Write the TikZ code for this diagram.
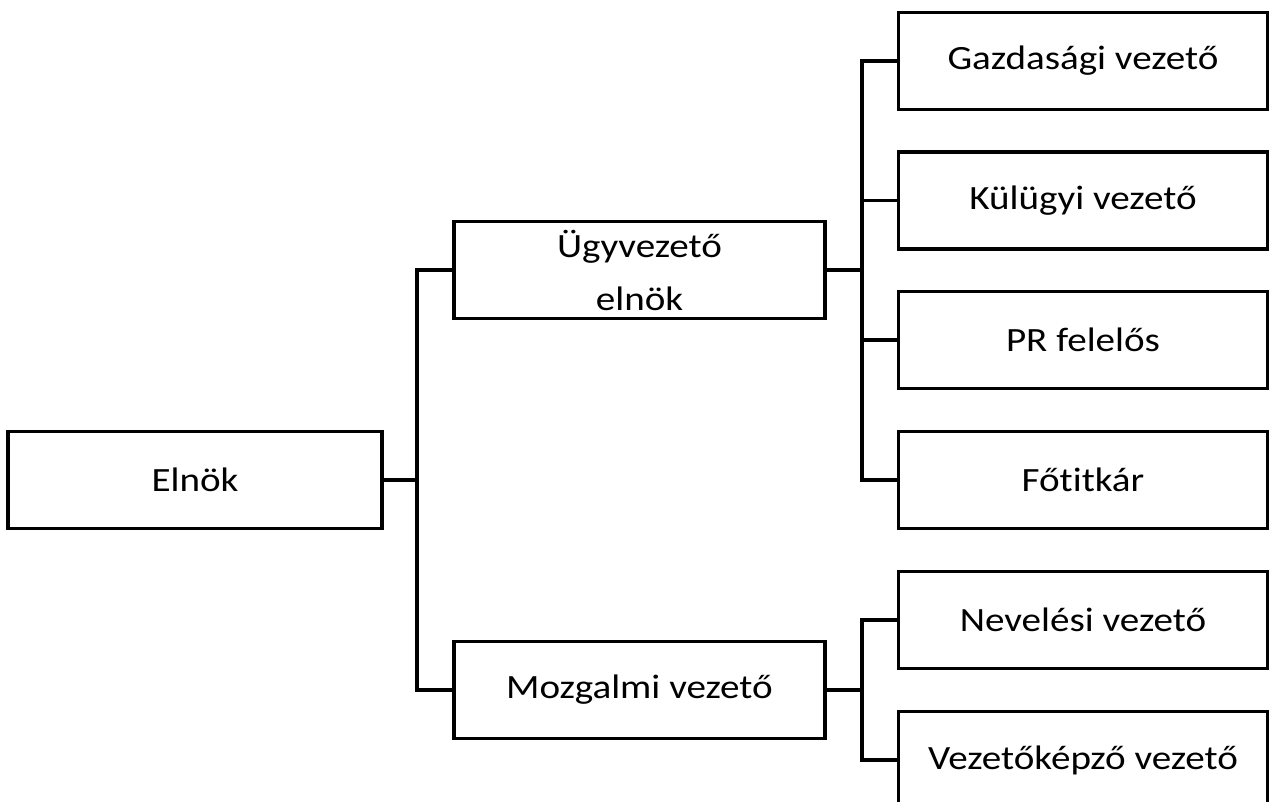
\documentclass[tikz,border=0pt]{standalone}
\usepackage{fontspec}
\setmainfont{Carlito}[FakeStretch=1.15, Ligatures=NoCommon]
\tikzset{
  orgbox/.style={draw=black, line width=3.5pt, fill=white, rectangle, inner sep=0pt,
    minimum height=97pt, align=center, font=\fontsize{34}{53}\selectfont},
  leftbox/.style={orgbox, minimum width=374pt},
  midbox/.style={orgbox, minimum width=371pt},
  rightbox/.style={orgbox, minimum width=369pt},
  conn/.style={draw=black, line width=3.5pt}
}
\begin{document}
\begin{tikzpicture}[x=1pt, y=-1pt]
\useasboundingbox (0,0) rectangle (1271,802);
\node[leftbox] (elnok) at (195,480) {Elnök};
\node[midbox] (ugy) at (639.5,270) {Ügyvezető\\elnök};
\node[midbox] (moz) at (639.5,690) {Mozgalmi vezető};
\node[rightbox] (gaz) at (1083,61) {Gazdasági vezető};
\node[rightbox] (kul) at (1083,200.5) {Külügyi vezető};
\node[rightbox] (pr) at (1083,340) {PR felelős};
\node[rightbox] (fot) at (1083,480) {Főtitkár};
\node[rightbox] (nev) at (1083,620) {Nevelési vezető};
\node[rightbox] (vkp) at (1083,760) {Vezetőképző vezető};
\coordinate (j1) at (417,480);
\coordinate (j2) at (862,270);
\coordinate (j3) at (862,690);
\draw[conn] (elnok.east) -- (j1);
\draw[conn] (ugy.west) -| (j1);
\draw[conn] (moz.west) -| (j1);
\draw[conn] (ugy.east) -- (j2);
\draw[conn] (gaz.west) -| (j2);
\draw[conn] (kul.west) -| (j2);
\draw[conn] (pr.west) -| (j2);
\draw[conn] (fot.west) -| (j2);
\draw[conn] (moz.east) -- (j3);
\draw[conn] (nev.west) -| (j3);
\draw[conn] (vkp.west) -| (j3);
\end{tikzpicture}
\end{document}
